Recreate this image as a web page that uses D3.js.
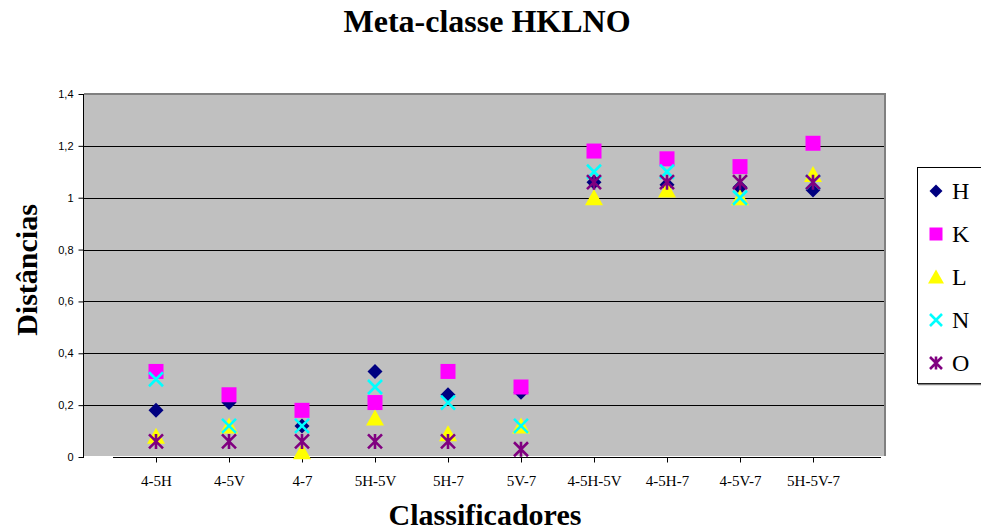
<!DOCTYPE html>
<html><head><meta charset="utf-8">
<script src="https://cdn.jsdelivr.net/npm/d3@7"></script>
<style>body{margin:0;background:#fff}svg{display:block}</style>
</head><body><svg id="c" width="981" height="531"></svg>
<script>
const categories = ["4-5H","4-5V","4-7","5H-5V","5H-7","5V-7","4-5H-5V","4-5H-7","4-5V-7","5H-5V-7"];
const H = [0.18, 0.21, 0.12, 0.33, 0.24, 0.25, 1.06, 1.05, 1.04, 1.03];
const K = [0.33, 0.24, 0.18, 0.21, 0.33, 0.27, 1.18, 1.15, 1.12, 1.21];
const L = [0.08, 0.12, 0.02, 0.15, 0.09, 0.12, 1.00, 1.03, 1.00, 1.09];
const N = [0.30, 0.12, 0.12, 0.27, 0.21, 0.12, 1.10, 1.10, 1.00, 1.06];
const O = [0.06, 0.06, 0.06, 0.06, 0.06, 0.03, 1.06, 1.06, 1.06, 1.06];
const seriesNames = ["H","K","L","N","O"];
const yTicks = [0, 0.2, 0.4, 0.6, 0.8, 1, 1.2, 1.4];

const series = [
  {name:"H", values:H, shape:"diamond", color:"#000080"},
  {name:"K", values:K, shape:"square", color:"#FF00FF"},
  {name:"L", values:L, shape:"triangle", color:"#FFFF00"},
  {name:"N", values:N, shape:"x", color:"#00FFFF"},
  {name:"O", values:O, shape:"star", color:"#800080"}
];

(function(){
const svg = d3.select("#c");
const pLeft = 84, pRight = 885, pTop = 94, pBottom = 457;
const x = d3.scaleLinear().domain([0, 11]).range([83, 886]);
const y = d3.scaleLinear().domain([0, 1.4]).range([pBottom, pTop]);

// plot area
svg.append("rect").attr("x", pLeft).attr("y", pTop).attr("width", pRight - pLeft).attr("height", pBottom - pTop - 1).attr("fill", "#C0C0C0");
svg.append("line").attr("x1", pLeft).attr("x2", pRight + 1).attr("y1", pTop).attr("y2", pTop).attr("stroke", "#808080").attr("stroke-width", 2);
svg.append("line").attr("x1", pRight).attr("x2", pRight).attr("y1", pTop).attr("y2", pBottom - 1).attr("stroke", "#808080").attr("stroke-width", 2);

// gridlines
svg.append("g").selectAll("line").data(yTicks.filter(d => d > 0 && d < 1.4)).join("line")
  .attr("x1", pLeft).attr("x2", pRight - 1)
  .attr("y1", d => Math.round(y(d)) + 0.5).attr("y2", d => Math.round(y(d)) + 0.5)
  .attr("stroke", "#000").attr("stroke-width", 1);

// y axis
const yAxis = d3.axisLeft(y).tickValues(yTicks).tickSize(5).tickPadding(5)
  .tickFormat(d => d3.format("~g")(d).replace(".", ","));
const gy = svg.append("g").attr("transform", "translate(83.5,0)").call(yAxis);
gy.select(".domain").remove();
gy.append("line").attr("x1", 0).attr("x2", 0).attr("y1", pTop).attr("y2", pBottom + 1).attr("stroke", "#000");
gy.selectAll("text").attr("font-family", "Liberation Sans, Arial, sans-serif").attr("font-size", 11).attr("fill", "#000");

// x axis
const xAxis = d3.axisBottom(x).tickValues(d3.range(1, categories.length + 1)).tickSize(5).tickPadding(13)
  .tickFormat(d => categories[d - 1]);
const gx = svg.append("g").attr("transform", "translate(0," + (pBottom + 0.5) + ")").call(xAxis);
gx.select(".domain").remove();
gx.append("line").attr("x1", 113).attr("x2", 881).attr("y1", 0).attr("y2", 0).attr("stroke", "#000");
gx.selectAll("text").attr("font-family", "Liberation Serif, Times New Roman, serif").attr("font-size", 15).attr("fill", "#000");

// marker drawing
function drawMarker(g, shape, color, s) {
  if (shape === "diamond") {
    g.append("path").attr("d", `M0,${-s}L${s},0L0,${s}L${-s},0Z`).attr("fill", color);
  } else if (shape === "square") {
    g.append("rect").attr("x", -s).attr("y", -s).attr("width", 2 * s).attr("height", 2 * s).attr("fill", color);
  } else if (shape === "triangle") {
    g.append("path").attr("d", `M0,${-s - 1}L${s + 1.5},${s}L${-s - 1.5},${s}Z`).attr("fill", color);
  } else if (shape === "x") {
    const t = s - 0.5;
    g.append("path").attr("d", `M${-t},${-t}L${t},${t}M${-t},${t}L${t},${-t}`).attr("stroke", color).attr("stroke-width", 2.6).attr("fill", "none");
  } else if (shape === "star") {
    const t = s - 0.5;
    g.append("path").attr("d", `M${-t},${-t}L${t},${t}M${-t},${t}L${t},${-t}M0,${-s}L0,${s}`).attr("stroke", color).attr("stroke-width", 2.6).attr("fill", "none");
  }
}

series.forEach(se => {
  const g = svg.append("g");
  se.values.forEach((v, i) => {
    const m = g.append("g").attr("transform", `translate(${x(i + 1)},${y(v)})`);
    drawMarker(m, se.shape, se.color, 7.5);
  });
});

// titles
svg.append("text").attr("x", 487).attr("y", 32).attr("text-anchor", "middle")
  .attr("font-family", "Liberation Serif, Times New Roman, serif").attr("font-weight", "bold").attr("font-size", 32)
  .text("Meta-classe HKLNO");
svg.append("text").attr("x", 485).attr("y", 525).attr("text-anchor", "middle")
  .attr("font-family", "Liberation Serif, Times New Roman, serif").attr("font-weight", "bold").attr("font-size", 30)
  .text("Classificadores");
svg.append("text").attr("transform", "translate(37,270) rotate(-90)").attr("text-anchor", "middle")
  .attr("font-family", "Liberation Serif, Times New Roman, serif").attr("font-weight", "bold").attr("font-size", 30)
  .text("Distâncias");

// legend
const lg = svg.append("g");
lg.append("rect").attr("x", 917.5).attr("y", 167.5).attr("width", 70).attr("height", 216).attr("fill", "#fff").attr("stroke", "#000");
lg.append("line").attr("x1", 918).attr("x2", 981).attr("y1", 384.5).attr("y2", 384.5).attr("stroke", "#808080").attr("stroke-width", 1.5);
series.forEach((se, i) => {
  const cy = 191 + i * 43;
  const m = lg.append("g").attr("transform", `translate(936,${cy})`);
  drawMarker(m, se.shape, se.color, 6.5);
  lg.append("text").attr("x", 952).attr("y", cy + 8).attr("font-family", "Liberation Serif, Times New Roman, serif")
    .attr("font-size", 24).attr("fill", "#000").text(seriesNames[i]);
});
})();
</script></body></html>
